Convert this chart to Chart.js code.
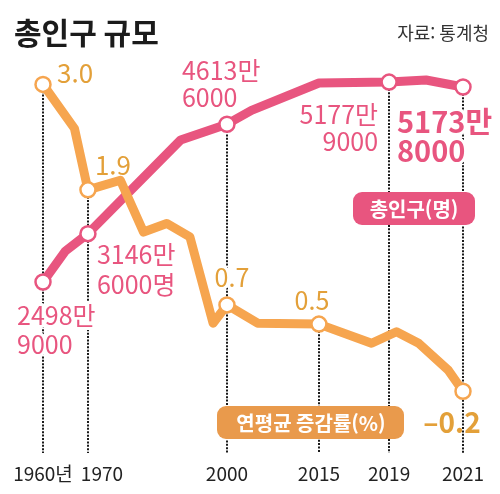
<!DOCTYPE html>
<html lang="ko">
<head>
<meta charset="UTF-8">
<script src="https://cdn.jsdelivr.net/npm/chart.js@4/dist/chart.umd.min.js"></script>
<style>
    html, body { margin: 0; padding: 0; background: #fff; }
</style>
</head>
<body>
<canvas id="chart" width="500" height="494"></canvas>
<script>
    // data
    const rateYears  = [1960, 1967, 1970, 1977, 1982, 1987, 1992, 1997, 2000, 2005, 2015, 2018, 2019.2, 2019.8, 2020.6, 2021];
    const rateValues = [3.0, 2.54, 1.9, 2.0, 1.46, 1.55, 1.41, 0.51, 0.7, 0.51, 0.5, 0.30, 0.42, 0.30, 0.02, -0.2];
    const popYears  = [1960, 1965, 1970, 1990, 2000, 2004, 2015, 2019, 2020, 2021];
    const popValues = [2498.9, 2915, 3146.6, 4402, 4613.6, 4800, 5166, 5177.9, 5206, 5112]; // 만 명

    const tickYears  = [1960, 1970, 2000, 2015, 2019, 2021];
    const tickLabels = ['1960년', '1970', '2000', '2015', '2019', '2021'];
    const rateMarkYears = [1960, 1970, 2000, 2015, 2021];
    const popMarkYears  = [1960, 1970, 2000, 2019, 2021];
    const rateNoteText = ['3.0', '1.9', '0.7', '0.5', '–0.2'];
    const popNoteText  = [['2498만', '9000'], ['3146만', '6000명'], ['4613만', '6000'], ['5177만', '9000'], ['5173만', '8000']];

    // layout / style
    const PINK = '#e8557f';
    const ORANGE = '#f6a54f';
    const ORANGE_TXT = '#e3a039';
    const FONT = '"Noto Sans CJK KR", "Noto Sans", sans-serif';
    const stopFrac = [0, 0.107, 0.438, 0.657, 0.824, 1];   // where the axis years sit across the plot
    const rateNoteLayout = [
        { dx: 14, dy: -11, align: 'left', size: 26 },
        { dx: 7, dy: -25, align: 'left', size: 26 },
        { dx: 5, dy: -27, align: 'center' },
        { dx: -7, dy: -24, align: 'center' },
        { dx: -11, dy: 31, align: 'center', bold: true, size: 28, noHalo: true }
    ];
    const popNoteLayout = [
        { dx: -26, dy: 33, gap: 29, align: 'left' },
        { dx: 9, dy: 21, gap: 30, align: 'left' },
        { dx: -45, dy: -54, gap: 27, align: 'left' },
        { dx: -11, dy: 32, gap: 27, align: 'right' },
        { dx: -66, dy: 35, gap: 29, align: 'left', bold: true, size: 29 }
    ];

    // x scale with uneven spacing between the labelled years
    class StopScale extends Chart.LinearScale {
        getPixelForValue(value) {
            let i = 0;
            while (i < tickYears.length - 2 && value > tickYears[i + 1]) i++;
            const t = (value - tickYears[i]) / (tickYears[i + 1] - tickYears[i]);
            return this.getPixelForDecimal(stopFrac[i] + t * (stopFrac[i + 1] - stopFrac[i]));
        }
        getValueForPixel(pixel) {
            const f = this.getDecimalForPixel(pixel);
            let i = 0;
            while (i < stopFrac.length - 2 && f > stopFrac[i + 1]) i++;
            const t = (f - stopFrac[i]) / (stopFrac[i + 1] - stopFrac[i]);
            return tickYears[i] + t * (tickYears[i + 1] - tickYears[i]);
        }
    }
    StopScale.id = 'stops';
    StopScale.defaults = Chart.LinearScale.defaults;
    Chart.register(StopScale);

    function roundBox(ctx, x, y, w, h, r) {
        ctx.beginPath();
        ctx.moveTo(x + r, y);
        ctx.arcTo(x + w, y, x + w, y + h, r);
        ctx.arcTo(x + w, y + h, x, y + h, r);
        ctx.arcTo(x, y + h, x, y, r);
        ctx.arcTo(x, y, x + w, y, r);
        ctx.closePath();
    }

    function note(ctx, text, x, y, halo) {
        if (halo) {
            ctx.strokeStyle = '#fff';
            ctx.lineWidth = 6;
            ctx.lineJoin = 'round';
            ctx.strokeText(text, x, y);
        }
        ctx.fillText(text, x, y);
    }

    const decor = {
        id: 'decor',
        beforeDatasetsDraw(chart) {
            const { ctx, scales } = chart;
            const xs = scales.x, yr = scales.yRate, yp = scales.yPop;
            ctx.save();
            // dotted drop lines
            ctx.strokeStyle = '#1a1a1a';
            ctx.lineWidth = 2;
            ctx.setLineDash([2, 1.4]);
            tickYears.forEach(year => {
                const x = Math.round(xs.getPixelForValue(year));
                const tops = [];
                if (rateMarkYears.includes(year)) tops.push(yr.getPixelForValue(rateValues[rateYears.indexOf(year)]));
                if (popMarkYears.includes(year)) tops.push(yp.getPixelForValue(popValues[popYears.indexOf(year)]));
                ctx.beginPath();
                ctx.moveTo(x, Math.min(...tops));
                ctx.lineTo(x, 453);
                ctx.stroke();
            });
            ctx.setLineDash([]);
            ctx.textBaseline = 'middle';

            // value notes
            rateMarkYears.forEach((year, i) => {
                const L = rateNoteLayout[i];
                const x = xs.getPixelForValue(year) + L.dx;
                const y = yr.getPixelForValue(rateValues[rateYears.indexOf(year)]) + L.dy;
                ctx.font = (L.bold ? 'bold ' : '') + (L.size || 25) + 'px ' + FONT;
                ctx.textAlign = L.align;
                ctx.fillStyle = ORANGE_TXT;
                note(ctx, rateNoteText[i], x, y, !L.noHalo);
            });
            popMarkYears.forEach((year, i) => {
                const L = popNoteLayout[i];
                const x = xs.getPixelForValue(year) + L.dx;
                const y = yp.getPixelForValue(popValues[popYears.indexOf(year)]) + L.dy;
                ctx.font = (L.bold ? 'bold ' : '') + (L.size || 25) + 'px ' + FONT;
                ctx.textAlign = L.align;
                ctx.fillStyle = PINK;
                popNoteText[i].forEach((line, k) => note(ctx, line, x, y + k * L.gap, true));
            });
            ctx.restore();
        },
        afterDatasetsDraw(chart) {
            const { ctx, scales } = chart;
            ctx.save();
            ctx.textBaseline = 'middle';

            // series tags
            ctx.fillStyle = PINK;
            roundBox(ctx, 353, 192, 122, 33, 9);
            ctx.fill();
            ctx.fillStyle = '#e99a4c';
            roundBox(ctx, 217, 406, 187, 33, 9);
            ctx.fill();
            ctx.fillStyle = '#fff';
            ctx.textAlign = 'center';
            ctx.font = 'bold 20px ' + FONT;
            ctx.fillText('총인구(명)', 414, 209);
            ctx.fillText('연평균 증감률(%)', 311, 423);

            // year labels
            ctx.fillStyle = '#222';
            ctx.font = '19px ' + FONT;
            tickYears.forEach((year, i) => {
                const shift = year === 1970 ? 14 : 0;
                ctx.fillText(tickLabels[i], scales.x.getPixelForValue(year) + shift, 474);
            });

            // title and source
            ctx.textAlign = 'left';
            ctx.fillStyle = '#1b1b1b';
            ctx.font = 'bold 30px ' + FONT;
            ctx.fillText('총인구 규모', 14, 33);
            ctx.textAlign = 'right';
            ctx.fillStyle = '#333';
            ctx.font = '18px ' + FONT;
            ctx.fillText('자료: 통계청', 489, 33);
            ctx.restore();
        }
    };

    const markRadius = (years, marks) => c => marks.includes(years[c.dataIndex]) ? 7.5 : 0;

    const ctx = document.getElementById('chart').getContext('2d');
    new Chart(ctx, {
        type: 'line',
        data: {
            datasets: [{
                label: '연평균 증감률(%)',
                data: rateYears.map((x, i) => ({ x, y: rateValues[i] })),
                yAxisID: 'yRate',
                borderColor: ORANGE,
                borderWidth: 9,
                borderJoinStyle: 'round',
                borderCapStyle: 'round',
                pointRadius: markRadius(rateYears, rateMarkYears),
                pointBackgroundColor: '#fff',
                pointBorderColor: ORANGE,
                pointBorderWidth: 2.5,
                clip: false
            }, {
                label: '총인구(명)',
                data: popYears.map((x, i) => ({ x, y: popValues[i] })),
                yAxisID: 'yPop',
                borderColor: PINK,
                borderWidth: 9,
                borderJoinStyle: 'round',
                borderCapStyle: 'round',
                pointRadius: markRadius(popYears, popMarkYears),
                pointBackgroundColor: '#fff',
                pointBorderColor: PINK,
                pointBorderWidth: 2.5,
                clip: false
            }]
        },
        options: {
            responsive: false,
            animation: false,
            devicePixelRatio: 1,
            layout: { padding: { left: 43, right: 37, top: 70, bottom: 74 } },
            plugins: { legend: { display: false }, tooltip: { enabled: false } },
            scales: {
                x: { type: 'stops', min: 1960, max: 2021, display: false },
                yRate: { type: 'linear', min: -0.5, max: 3.15, display: false },
                yPop: { type: 'linear', min: 650, max: 5340, display: false }
            }
        },
        plugins: [decor]
    });
</script>
</body>
</html>
